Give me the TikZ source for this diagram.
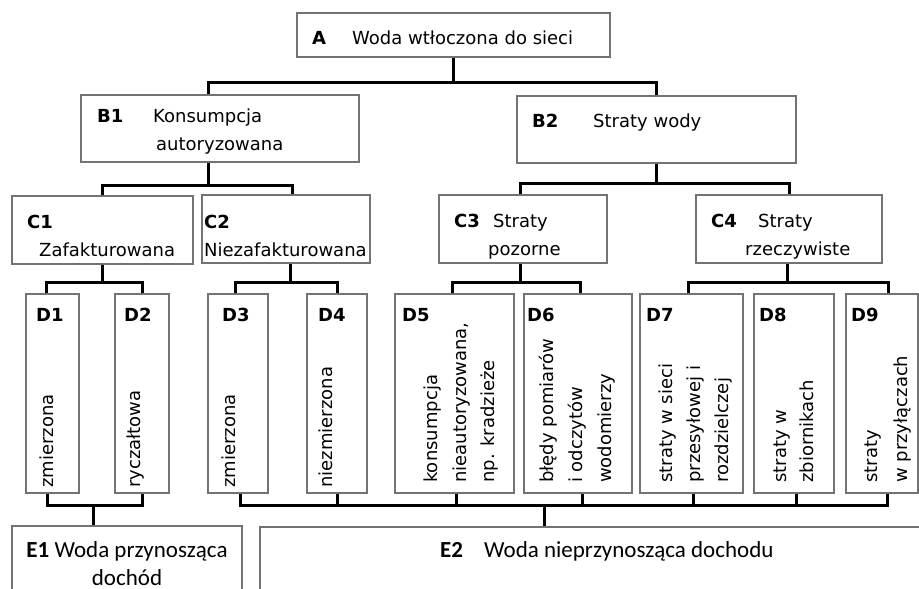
\documentclass[tikz,border=0pt]{standalone}
\usepackage{fontspec}
\setmainfont{DejaVu Sans}
\newfontfamily\ecalibri{Carlito}
\begin{document}
\begin{tikzpicture}[x=1pt,y=-1pt,
  box/.style={draw=black!55,line width=1.3pt,inner sep=0pt},
  conn/.style={line width=3pt},
  lbl/.style={font=\bfseries\fontsize{18}{22}\selectfont,inner sep=0pt,anchor=base west},
  txt/.style={font=\fontsize{18}{22}\selectfont,inner sep=0pt,anchor=base west},
  vtxt/.style={txt,rotate=90},
  etxt/.style={font=\ecalibri\fontsize{23}{27}\selectfont,inner sep=0pt,anchor=base west},
]
\useasboundingbox (0,0) rectangle (919,589);
%% boxes
\node (A) at (453.5,35) [box,minimum width=313,minimum height=44] {};
\node (B1) at (220,128.5) [box,minimum width=278,minimum height=67] {};
\node (B2) at (656.5,129.5) [box,minimum width=279,minimum height=67] {};
\node (C1) at (102.5,230) [box,minimum width=181,minimum height=68] {};
\node (C2) at (286,229) [box,minimum width=168,minimum height=68] {};
\node (C3) at (523,229) [box,minimum width=168,minimum height=68] {};
\node (C4) at (789,229) [box,minimum width=186,minimum height=68] {};
\node (D1) at (52.5,393.5) [box,minimum width=53,minimum height=199] {};
\node (D2) at (142,393.5) [box,minimum width=54,minimum height=199] {};
\node (D3) at (238,393.5) [box,minimum width=60,minimum height=199] {};
\node (D4) at (337,393.5) [box,minimum width=60,minimum height=199] {};
\node (D5) at (454.5,393.5) [box,minimum width=119,minimum height=199] {};
\node (D6) at (578,393.5) [box,minimum width=108,minimum height=199] {};
\node (D7) at (691.5,393.5) [box,minimum width=103,minimum height=199] {};
\node (D8) at (794,393.5) [box,minimum width=80,minimum height=199] {};
\node (D9) at (882,393.5) [box,minimum width=72,minimum height=199] {};
\node (E1) at (127,573) [box,minimum width=230,minimum height=94] {};
\node (E2) at (610,574) [box,minimum width=700,minimum height=94] {};
%% texts
\node (lA) at (312,45) [lbl] {A};
\node (tA) at (352,45) [txt] {Woda wtłoczona do sieci};
\node (lB1) at (97,122) [lbl] {B1};
\node (tB1a) at (153,122) [txt] {Konsumpcja};
\node (tB1b) at (156,150) [txt] {autoryzowana};
\node (lB2) at (532,127) [lbl] {B2};
\node (tB2) at (593,127) [txt] {Straty wody};
\node (lC1) at (27,228) [lbl] {C1};
\node (tC1) at (39,256) [txt] {Zafakturowana};
\node (lC2) at (204,228) [lbl] {C2};
\node (tC2) at (204,256) [txt] {Niezafakturowana};
\node (lC3) at (454,227) [lbl] {C3};
\node (tC3a) at (493,227) [txt] {Straty};
\node (tC3b) at (488,255) [txt] {pozorne};
\node (lC4) at (711,227) [lbl] {C4};
\node (tC4a) at (758,227) [txt] {Straty};
\node (tC4b) at (745,255) [txt] {rzeczywiste};
\node (lD1) at (36,321) [lbl] {D1};
\node (lD2) at (124,321) [lbl] {D2};
\node (lD3) at (222,321) [lbl] {D3};
\node (lD4) at (318,321) [lbl] {D4};
\node (lD5) at (402,321) [lbl] {D5};
\node (lD6) at (527,321) [lbl] {D6};
\node (lD7) at (646,321) [lbl] {D7};
\node (lD8) at (759,321) [lbl] {D8};
\node (lD9) at (851,321) [lbl] {D9};
\node (tD1) at (53,488) [vtxt] {zmierzona};
\node (tD2) at (140,488) [vtxt] {ryczałtowa};
\node (tD3) at (235,488) [vtxt] {zmierzona};
\node (tD4) at (332,488) [vtxt] {niezmierzona};
\node (tD5a) at (437,483) [vtxt] {konsumpcja};
\node (tD5b) at (466,483) [vtxt] {nieautoryzowana,};
\node (tD5c) at (494,483) [vtxt] {np. kradzieże};
\node (tD6a) at (553,483) [vtxt] {błędy pomiarów};
\node (tD6b) at (582,483) [vtxt] {i odczytów};
\node (tD6c) at (611,483) [vtxt] {wodomierzy};
\node (tD7a) at (672,483) [vtxt] {straty w sieci};
\node (tD7b) at (700,483) [vtxt] {przesyłowej i};
\node (tD7c) at (728,483) [vtxt] {rozdzielczej};
\node (tD8a) at (786,483) [vtxt] {straty w};
\node (tD8b) at (813,483) [vtxt] {zbiornikach};
\node (tD9a) at (877,483) [vtxt] {straty};
\node (tD9b) at (907,483) [vtxt] {w przyłączach};
\node (tE1a) at (127,557) [etxt,anchor=base] {\textbf{E1} Woda przynosząca};
\node (tE1b) at (127,585) [etxt,anchor=base] {dochód};
\node (lE2) at (440,557) [etxt] {\textbf{E2}};
\node (tE2) at (484,557) [etxt] {Woda nieprzynosząca dochodu};
%% connectors
\draw [conn] (A.south) -- ++(0,25) coordinate (ab);
\draw [conn] ([xshift=-12]B1.north) |- (ab) -| (B2.north);
\draw [conn] ([xshift=-12]B1.south) -- ++(0,23) coordinate (b1c);
\draw [conn] (C1.north) |- (b1c) -| ([xshift=6]C2.north);
\draw [conn] (B2.south) -- ++(0,20) coordinate (b2c);
\draw [conn] ([xshift=-3]C3.north) |- (b2c) -| (C4.north);
\draw [conn] (C1.south) -- ++(0,18) coordinate (c1d);
\draw [conn] ([xshift=-6]D1.north) |- (c1d) -| (D2.north);
\draw [conn] ([xshift=4]C2.south) -- ++(0,19) coordinate (c2d);
\draw [conn] ([xshift=-3]D3.north) |- (c2d) -| (D4.north);
\draw [conn] ([xshift=-3]C3.south) -- ++(0,19) coordinate (c3d);
\draw [conn] ([xshift=-2]D5.north) |- (c3d) -| ([xshift=2]D6.north);
\draw [conn] ([xshift=-2]C4.south) -- ++(0,19) coordinate (c4d);
\draw [conn] ([xshift=-3]D7.north) |- (c4d) -| ([xshift=6]D9.north);
\draw [conn] ([xshift=-34]E1.north) -- ++(0,-20) coordinate (de1);
\draw [conn] ([xshift=-5]D1.south) |- (de1) -| (D2.south);
\draw [conn] ([xshift=-66]E2.north) -- ++(0,-21) coordinate (de2);
\draw [conn] ([xshift=2]D3.south) |- (de2) -| ([xshift=5]D9.south);
\draw [conn] (D4.south) -- (D4.south |- de2);
\draw [conn] ([xshift=2]D5.south) -- ([xshift=2]D5.south |- de2);
\draw [conn] ([xshift=4]D6.south) -- ([xshift=4]D6.south |- de2);
\draw [conn] ([xshift=2]D7.south) -- ([xshift=2]D7.south |- de2);
\draw [conn] ([xshift=2]D8.south) -- ([xshift=2]D8.south |- de2);
%
\end{tikzpicture}
\end{document}
